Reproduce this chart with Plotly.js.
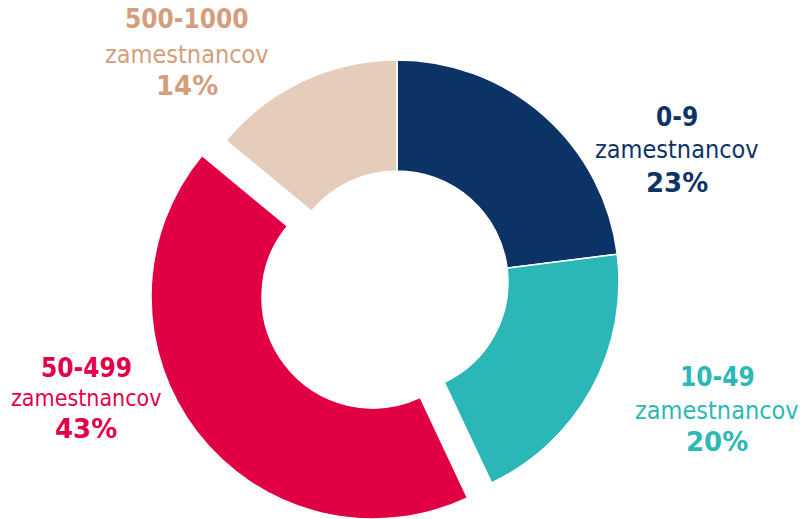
<!DOCTYPE html>
<html>
<head>
<meta charset="utf-8">
<script src="https://cdn.plot.ly/plotly-3.0.1.min.js"></script>
<style>html,body{margin:0;padding:0;background:#fff;}#chart{width:805px;height:519px;}</style>
</head>
<body>
<div id="chart"></div>
<script>
// ---- data ----
const categories = ['0-9', '10-49', '50-499', '500-1000'];
const values = [23, 20, 43, 14];
const unitLabel = 'zamestnancov';
const pulledCategory = '50-499';

// ---- styles ----
const sliceColors = ['#0b3366', '#2bb7b7', '#e20045', '#e6cdbb'];
const labelColors = ['#0e3467', '#2db8b8', '#e2004a', '#d49e7c'];
const W = 805, H = 519;
const R = 222;                 // outer radius in px
const centerMain = [397, 282]; // px
const pullOffset = [-24, 15];  // px offset of pulled slice
const FONT = 'DejaVu Sans Condensed, DejaVu Sans, sans-serif';
const FONT_PCT = 'DejaVu Sans, sans-serif';

function domainFor(cx, cy) {
  const clamp = v => Math.max(0, Math.min(1, v));
  return {
    x: [clamp((cx - R) / W), clamp((cx + R) / W)],
    y: [clamp(1 - (cy + R) / H), clamp(1 - (cy - R) / H)]
  };
}

const pulledIdx = categories.indexOf(pulledCategory);
const transparent = 'rgba(0,0,0,0)';

const mainColors = sliceColors.map((c, i) => i === pulledIdx ? transparent : c);
const mainLineW = categories.map((c, i) => i === pulledIdx ? 0 : 1.5);
const pullColors = sliceColors.map((c, i) => i === pulledIdx ? c : transparent);
const pullLineW = categories.map((c, i) => i === pulledIdx ? 1.5 : 0);

const common = {
  type: 'pie', labels: categories, values: values, sort: false,
  direction: 'clockwise', rotation: 0, hole: 0.5, textinfo: 'none',
  hoverinfo: 'label+percent', showlegend: false
};

const traceMain = Object.assign({}, common, {
  domain: domainFor(centerMain[0], centerMain[1]),
  marker: { colors: mainColors, line: { color: '#ffffff', width: mainLineW } }
});
const tracePull = Object.assign({}, common, {
  domain: domainFor(centerMain[0] + pullOffset[0], centerMain[1] + pullOffset[1]),
  marker: { colors: pullColors, line: { color: '#ffffff', width: pullLineW } }
});

// label positions (px): [x center, y of line1, y of line2, y of line3]
const labelPos = [
  [677, 117, 150, 183],
  [717, 377, 410, 442],
  [86, 368, 398, 429],
  [187, 19, 54, 86]
];
const midSizes = [25, 25, 23, 25];

const total = values.reduce((a, b) => a + b, 0);
const annotations = [];
categories.forEach((cat, i) => {
  const pct = Math.round(values[i] / total * 100) + '%';
  const p = labelPos[i];
  const lines = [
    { t: '<b>' + cat + '</b>', y: p[1], s: 26, f: FONT },
    { t: unitLabel, y: p[2], s: midSizes[i], f: FONT },
    { t: '<b>' + pct + '</b>', y: p[3], s: 26, f: FONT_PCT }
  ];
  lines.forEach(l => {
    annotations.push({
      xref: 'paper', yref: 'paper', x: p[0] / W, y: 1 - l.y / H,
      xanchor: 'center', yanchor: 'middle', showarrow: false,
      text: l.t, font: { family: l.f, size: l.s, color: labelColors[i] }
    });
  });
});

const layout = {
  width: W, height: H,
  margin: { l: 0, r: 0, t: 0, b: 0 },
  paper_bgcolor: '#ffffff', plot_bgcolor: '#ffffff',
  annotations: annotations
};

Plotly.newPlot('chart', [traceMain, tracePull], layout, { displayModeBar: false, staticPlot: true });
</script>
</body>
</html>
